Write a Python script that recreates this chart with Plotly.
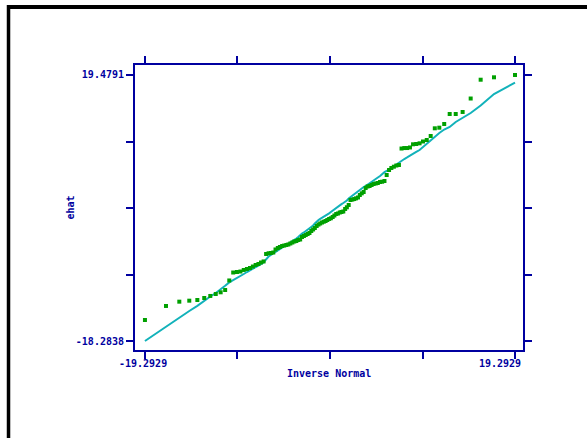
import plotly.graph_objects as go

# Inverse-normal quantiles (x), 110 observations
inv_normal = [
    -19.2929, -17.10, -15.71, -14.67, -13.83, -13.11, -12.48, -11.91, -11.40, -10.93,
    -10.50, -10.09, -9.70, -9.34, -8.99, -8.66, -8.34, -8.04, -7.75, -7.46,
    -7.19, -6.92, -6.66, -6.40, -6.16, -5.91, -5.68, -5.44, -5.22, -4.99,
    -4.77, -4.55, -4.34, -4.13, -3.92, -3.72, -3.51, -3.31, -3.11, -2.92,
    -2.72, -2.53, -2.33, -2.14, -1.95, -1.76, -1.58, -1.39, -1.20, -1.02,
    -0.83, -0.65, -0.46, -0.28, -0.09,
    0.09, 0.28, 0.46, 0.65, 0.83,
    1.02, 1.20, 1.39, 1.58, 1.76, 1.95, 2.14, 2.33, 2.53, 2.72,
    2.92, 3.11, 3.31, 3.51, 3.72, 3.92, 4.13, 4.34, 4.55, 4.77,
    4.99, 5.22, 5.44, 5.68, 5.91, 6.16, 6.40, 6.66, 6.92, 7.19,
    7.46, 7.75, 8.04, 8.34, 8.66, 8.99, 9.34, 9.70, 10.09, 10.50,
    10.93, 11.40, 11.91, 12.48, 13.11, 13.83, 14.67, 15.71, 17.10, 19.2929,
]

# Sorted residuals (green points)
ehat = [
    -15.30, -13.31, -12.70, -12.56, -12.46, -12.18, -11.89, -11.61, -11.37, -11.04,
    -9.69, -8.56, -8.49, -8.42, -8.20, -8.06, -7.92, -7.71, -7.49, -7.35,
    -7.14, -6.99, -5.93, -5.83, -5.79, -5.72, -5.29, -5.08, -4.94, -4.80,
    -4.73, -4.65, -4.58, -4.44, -4.30, -4.16, -4.09, -3.95, -3.87, -3.52,
    -3.38, -3.24, -3.09, -2.95, -2.67, -2.45, -2.24, -1.96, -1.75, -1.60,
    -1.46, -1.35, -1.25, -1.11, -0.96,
    -0.86, -0.68, -0.47, -0.25, -0.18,
    -0.04, 0.03, 0.10, 0.46, 0.70, 1.02, 1.73, 1.80, 1.87, 1.97,
    2.09, 2.44, 2.68, 2.87, 3.44, 3.65, 3.72, 3.86, 4.00, 4.08,
    4.15, 4.29, 4.33, 4.43, 5.28, 5.99, 6.28, 6.46, 6.63, 6.70,
    9.04, 9.11, 9.11, 9.19, 9.64, 9.68, 9.78, 10.04, 10.25, 10.82,
    11.91, 12.00, 12.52, 13.94, 13.94, 14.23, 16.14, 18.81, 19.15, 19.4791,
]

# Reference normal quantile curve (cyan line)
ref_line = [
    -18.2838, -16.22, -14.90, -14.02, -13.29, -12.53, -11.97, -11.47, -10.99, -10.45,
    -9.97, -9.67, -9.37, -9.10, -8.77, -8.49, -8.21, -8.00, -7.78, -7.57,
    -7.35, -7.14, -6.71, -6.29, -6.07, -5.86, -5.65, -5.44, -5.22, -5.01,
    -4.80, -4.63, -4.44, -4.27, -4.09, -3.92, -3.73, -3.52, -3.24, -3.02,
    -2.88, -2.67, -2.53, -2.36, -2.14, -1.89, -1.60, -1.32, -1.11, -0.96,
    -0.82, -0.68, -0.47, -0.33, -0.16,
    0.03, 0.24, 0.43, 0.60, 0.77,
    0.95, 1.14, 1.31, 1.48, 1.66, 1.95, 2.16, 2.37, 2.56, 2.73,
    2.94, 3.15, 3.37, 3.58, 3.72, 3.93, 4.08, 4.29, 4.50, 4.71,
    4.93, 5.14, 5.42, 5.68, 5.85, 6.13, 6.35, 6.56, 6.77, 7.06,
    7.27, 7.55, 7.77, 7.98, 8.26, 8.55, 8.83, 9.26, 9.75, 10.18,
    10.68, 11.25, 11.74, 12.10, 12.81, 13.37, 14.08, 15.15, 16.78, 18.39,
]

x_ticks = [-19.2929, -9.64645, 0.0, 9.64645, 19.2929]
x_ticklabels = ["-19.2929", "", "", "", "19.2929"]
y_ticks = [-18.2838, -8.843125, 0.59765, 10.038375, 19.4791]
y_ticklabels = ["-18.2838", "", "", "", "19.4791"]

AXIS = "#0000A0"
FONT = dict(family="DejaVu Sans Mono", size=10, color=AXIS, weight="bold")

fig = go.Figure()
fig.add_trace(go.Scatter(
    x=inv_normal, y=ref_line, mode="lines",
    line=dict(color="#12B2BA", width=2), showlegend=False, hoverinfo="skip"))
fig.add_trace(go.Scatter(
    x=inv_normal, y=ehat, mode="markers",
    marker=dict(symbol="square", size=4, color="#00A000", line=dict(width=0)),
    showlegend=False))

fig.update_xaxes(
    range=[-20.33, 20.125], tickvals=x_ticks, showticklabels=False,
    ticks="outside", ticklen=7, tickwidth=2, tickcolor=AXIS,
    showline=True, linecolor=AXIS, linewidth=2, mirror="ticks",
    showgrid=False, zeroline=False)
fig.update_yaxes(
    range=[-19.561, 20.898], tickvals=y_ticks, ticktext=y_ticklabels,
    ticks="outside", ticklen=7, tickwidth=2, tickcolor=AXIS,
    showline=True, linecolor=AXIS, linewidth=2, mirror="ticks",
    showgrid=False, zeroline=False, tickfont=FONT)

annotations = [
    dict(x=x_ticks[0], y=0, xref="x", yref="paper", text=x_ticklabels[0],
         showarrow=False, xanchor="center", yanchor="top", yshift=-6, xshift=-2, font=FONT),
    dict(x=x_ticks[-1], y=0, xref="x", yref="paper", text=x_ticklabels[-1],
         showarrow=False, xanchor="right", yanchor="top", yshift=-6, xshift=8, font=FONT),
    dict(x=0.5, y=0, xref="paper", yref="paper", text="Inverse Normal",
         showarrow=False, xanchor="center", yanchor="top", yshift=-16, font=FONT),
    dict(x=0, y=0.5, xref="paper", yref="paper", text="ehat", textangle=-90,
         showarrow=False, xanchor="center", yanchor="middle", xshift=-65, font=FONT),
]

# outer frame (top and left edges), in paper units relative to the plot area
shapes = [
    dict(type="line", xref="paper", yref="paper", x0=-0.326, x1=1.25, y0=1.2035, y1=1.2035,
         line=dict(color="black", width=4)),
    dict(type="line", xref="paper", yref="paper", x0=-0.326, x1=-0.326, y0=1.2105, y1=-0.35,
         line=dict(color="black", width=3.5)),
]

fig.update_layout(
    width=587, height=438,
    margin=dict(l=135, r=64, t=65, b=88),
    paper_bgcolor="white", plot_bgcolor="white",
    annotations=annotations, shapes=shapes,
    font=FONT,
)

fig.write_html(
    "out.html",
    config={"displayModeBar": False},
    post_script="document.body.style.margin='0';document.body.style.overflow='hidden';",
)
